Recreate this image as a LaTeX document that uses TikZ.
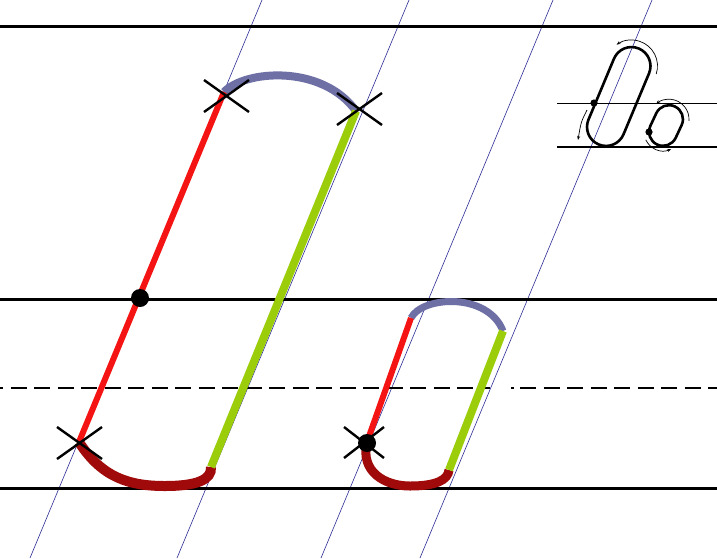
\documentclass[tikz,border=0pt]{standalone}
\usetikzlibrary{arrows.meta}
\definecolor{redstroke}{RGB}{245,20,20}
\definecolor{darkredstroke}{RGB}{160,10,10}
\definecolor{bluegrey}{RGB}{110,112,165}
\definecolor{limestroke}{RGB}{155,205,10}
\definecolor{guideblue}{RGB}{45,45,150}
\begin{document}
\begin{tikzpicture}[x=1pt,y=1pt,
  guide/.style={guideblue,line width=0.6pt},
  ruling/.style={black,line width=3pt},
  midline/.style={black,line width=2.6pt,dash pattern=on 16pt off 7.5pt,dash phase=13pt},
  upstroke/.style={redstroke,line width=6pt},
  downstroke/.style={limestroke,line width=8pt},
  toparc/.style={bluegrey,line width=8pt},
  botarc/.style={darkredstroke,line width=10pt},
  crossmark/.style={black,line width=2.4pt},
  dotmark/.style={fill=black},
  thinrule/.style={black,line width=1.1pt},
  loopline/.style={black,line width=2.6pt},
  hintarrow/.style={black,line width=0.7pt,-{Stealth[length=4pt,width=3pt]}},
  bigcross/.pic={\draw[crossmark] (-22.5,-16) -- (22.5,16) (-22.5,16) -- (22.5,-16);},
  smallcross/.pic={\draw[crossmark] (-20,-15.5) -- (20,15.5) (-20,15.5) -- (20,-15.5);}
]
\fill[white] (0,0) rectangle (717,-558);
\useasboundingbox (0,0) rectangle (717,-558);

% slanted guide lines
\draw[guide] (262,0) -- (30,-558);
\draw[guide] (409,0) -- (177,-558);
\draw[guide] (553,0) -- (321,-558);
\draw[guide] (652,0) -- (420,-558);

% rulings
\draw[ruling] (0,-26) -- (717,-26);
\draw[ruling] (0,-299) -- (717,-299);
\draw[ruling] (0,-488.5) -- (717,-488.5);
\draw[midline] (0,-388) -- (490,-388);
\draw[black,line width=2.6pt] (511,-388) -- (514,-388);
\draw[midline,dash phase=0pt] (520,-388) -- (717,-388);

% big letter
\coordinate (A) at (79,-442);
\coordinate (B) at (224,-92);
\coordinate (C) at (356,-111);
\coordinate (D) at (211,-467);
\draw[toparc] (B) .. controls (245,-70) and (322,-64) .. (C);
\draw[botarc] (A) .. controls (102,-478) and (130,-486) .. (165,-486) .. controls (196,-486) and (212,-480) .. (D);
\draw[upstroke] (A) -- (B);
\draw[downstroke] (C) -- (D);

% small letter
\coordinate (A2) at (367,-442);
\coordinate (B2) at (411,-318);
\coordinate (C2) at (503,-331);
\coordinate (D2) at (449,-470);
\draw[toparc,line width=7pt] (B2) .. controls (422,-296) and (488,-292) .. (C2);
\draw[botarc,line width=9pt] (A2) .. controls (360,-472) and (385,-486) .. (410,-486) .. controls (436,-486) and (448,-480) .. (D2);
\draw[upstroke] (A2) -- (B2);
\draw[downstroke] (C2) -- (D2);

% crosses and dots
\pic at (79.5,-443) {bigcross};
\pic at (226.5,-96) {bigcross};
\pic at (359.5,-109) {bigcross};
\pic at (364,-442.5) {smallcross};
\fill[dotmark] (140,-298) circle (9);
\fill[dotmark] (367,-443) circle (9);

% sample in the corner
\draw[thinrule] (557,-103.5) -- (717,-103.5);
\draw[thinrule] (557,-147) -- (717,-147);
\begin{scope}[shift={(618.75,-96.5)},rotate=-22.7]
  \draw[loopline,rounded corners=19pt] (-19,-52) rectangle (19,52);
\end{scope}
\begin{scope}[shift={(666,-125.5)},rotate=-25]
  \draw[loopline,rounded corners=14pt] (-14,-21) rectangle (14,21);
\end{scope}
\fill[dotmark] (594,-103) circle (3.6);
\fill[dotmark] (649,-132) circle (3.6);
\draw[hintarrow] (631.5,-66) ++(-18:26) arc[start angle=-18,end angle=125,radius=26];
\draw[hintarrow] (587,-110) .. controls (581,-122) .. (578,-140);
\draw[hintarrow] (669,-119.2) ++(-5:20) arc[start angle=-5,end angle=130,radius=20];
\draw[hintarrow] (663,-131.8) ++(205:19) arc[start angle=205,end angle=295,radius=19];
\end{tikzpicture}
\end{document}
